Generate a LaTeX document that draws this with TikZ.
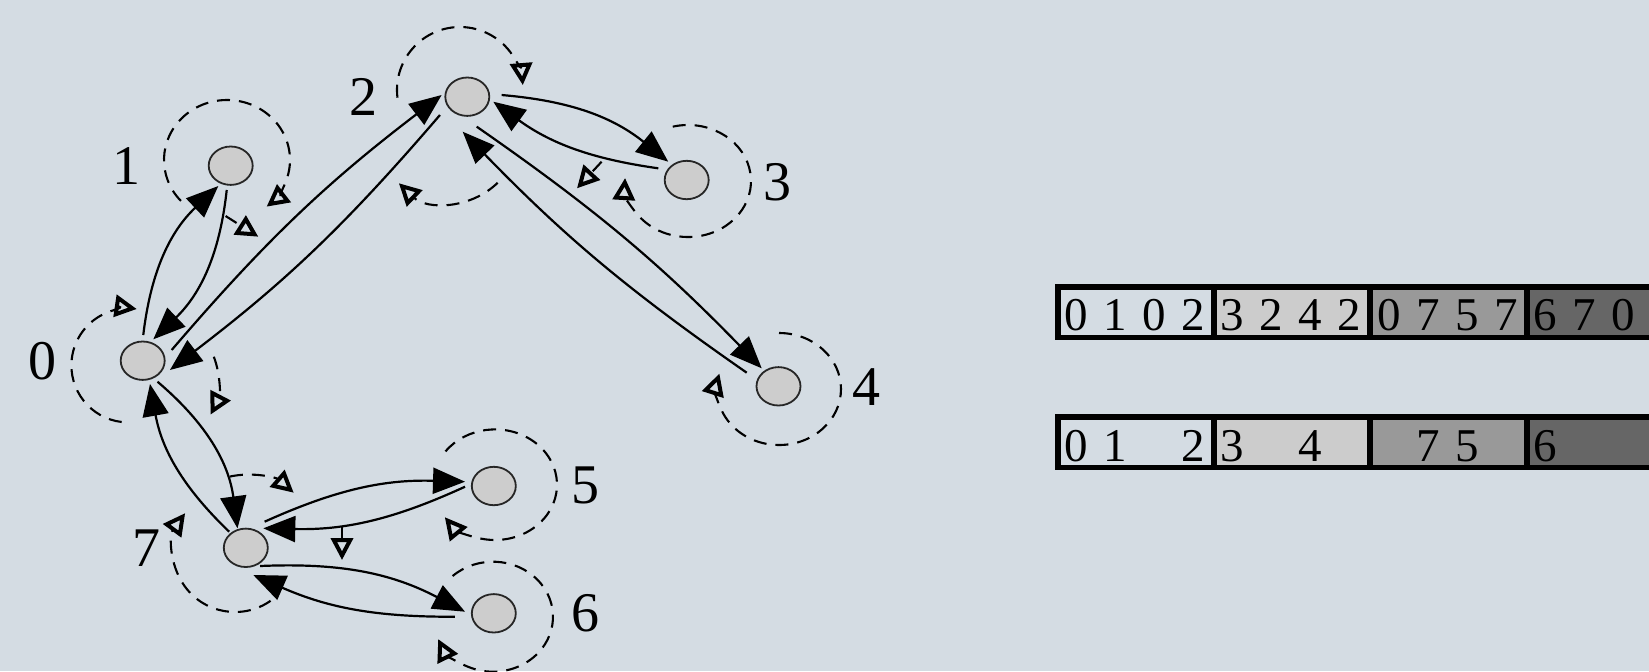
\documentclass[tikz,border=0pt]{standalone}
\usepackage{fontspec}
\setmainfont{Liberation Serif}
\usetikzlibrary{arrows.meta,shapes.geometric,calc}

\definecolor{bg}{RGB}{212,220,227}
\definecolor{vert}{RGB}{205,205,205}
\definecolor{cellA}{RGB}{212,220,227}
\definecolor{cellB}{RGB}{204,204,204}
\definecolor{cellC}{RGB}{153,153,153}
\definecolor{cellD}{RGB}{102,102,102}

\begin{document}
\begin{tikzpicture}[x=0.5pt,y=0.5pt,
  vertex/.style={ellipse, draw=black!85, line width=0.9pt, fill=vert,
    minimum width=22pt, minimum height=19.2pt, inner sep=0pt},
  lbl/.style={font=\fontsize{28}{28}\selectfont, inner sep=0pt},
  conn/.style={line width=1.1pt, -{Triangle[length=16pt,width=13pt]}},
  loopline/.style={line width=1.05pt, dash pattern=on 6.5pt off 4.5pt,
    -{Triangle[open,length=11pt,width=11pt,line width=2pt]}},
  cellnum/.style={font=\fontsize{23.5}{23.5}\selectfont, inner sep=0pt, anchor=base}
]
\fill[bg] (0,0) rectangle (1649,-671);
\useasboundingbox (0,0) rectangle (1649,-671);
\clip (0,0) rectangle (1649,-671);

% vertices
\node[vertex] (n0) at (142.7,-360.7) {};
\node[vertex] (n1) at (230.7,-165.7) {};
\node[vertex] (n2) at (467.3,-96.7) {};
\node[vertex] (n3) at (686.7,-180) {};
\node[vertex] (n4) at (778.5,-386.3) {};
\node[vertex] (n5) at (493.8,-486) {};
\node[vertex] (n6) at (493.8,-613.3) {};
\node[vertex] (n7) at (245.8,-547.8) {};

% vertex labels
\node[lbl] (l0) at (42.7,-360.7) {0};
\node[lbl] (l1) at (126.7,-166) {1};
\node[lbl] (l2) at (363.3,-97.3) {2};
\node[lbl] (l3) at (777.5,-182) {3};
\node[lbl] (l4) at (866.7,-386.7) {4};
\node[lbl] (l5) at (585,-485) {5};
\node[lbl] (l6) at (585,-613.3) {6};
\node[lbl] (l7) at (146.7,-548.3) {7};

% messages along the edges
\draw[conn] ([shift={(88.7:25.7)}]n0.center) to[bend left=20] ([shift={(238.6:23.8)}]n1.center);
\draw[conn] ([shift={(260.7:24.6)}]n1.center) to[bend left=20] ([shift={(63.6:23.9)}]n0.center);
\draw[conn] ([shift={(20.3:30.9)}]n0.center) to[bend left=6] ([shift={(176.2:25.7)}]n2.center);
\draw[conn] ([shift={(213.8:32.9)}]n2.center) to[bend left=6] ([shift={(341.2:28.8)}]n0.center);
\draw[conn] ([shift={(2.8:34.4)}]n2.center) to[bend left=17] ([shift={(135.2:26)}]n3.center);
\draw[conn] ([shift={(157.6:30.7)}]n3.center) to[bend left=14] ([shift={(349.1:26.5)}]n2.center);
\draw[conn] ([shift={(287.4:31.4)}]n2.center) to[bend left=5.5] ([shift={(133:24.6)}]n4.center);
\draw[conn] ([shift={(156.8:34.6)}]n4.center) to[bend left=5.5] ([shift={(262.5:35.3)}]n2.center);
\draw[conn] ([shift={(305.2:25.7)}]n0.center) to[bend left=21] ([shift={(113:21.2)}]n7.center);
\draw[conn] ([shift={(135.9:23.1)}]n7.center) to[bend left=18] ([shift={(287.4:24.4)}]n0.center);
\draw[conn] ([shift={(54.2:32.2)}]n7.center) to[bend left=13] ([shift={(171.5:29.1)}]n5.center);
\draw[conn] ([shift={(181.4:28.8)}]n5.center) to[bend left=13] ([shift={(48.1:26.2)}]n7.center);
\draw[conn] ([shift={(308:23.1)}]n7.center) to[bend left=15] ([shift={(176.8:28.8)}]n6.center);
\draw[conn] ([shift={(185:39)}]n6.center) to[bend left=12] ([shift={(285.4:28.2)}]n7.center);

% local steps drawn as dashed arcs round the vertices
\draw[loopline] ($(n1)+(-3.7,5.7)+(-137:63 and 60)$) arc[start angle=-137, end angle=-411, x radius=63, y radius=60];
\draw[loopline] ($(n2)+(-7.3,6.7)+(-173:63)$) arc[start angle=-173, end angle=-355.5, radius=63];
\draw[loopline] ($(n2)+(-19.3,-35.3)+(-45.6:71)$) arc[start angle=-45.6, end angle=-133.8, radius=71];
\draw[loopline] ($(n0)+(-14.3,-4.7)+(-96.8:57)$) arc[start angle=-96.8, end angle=-278.4, radius=57];
\draw[loopline] ($(n0)+(5.3,-21.3)+(21:70.5)$) arc[start angle=21, end angle=-27.6, radius=70.5];
\draw[loopline] ($(n3)+(1.3,-1)+(-256:63 and 56)$) arc[start angle=-256, end angle=-543, x radius=63, y radius=56];
\draw[loopline] ($(n4)+(0.5,-2.7)+(-270:62 and 56)$) arc[start angle=-270, end angle=-556, x radius=62, y radius=56];
\draw[loopline] ($(n7)+(-257.5:73)$) arc[start angle=-257.5, end angle=-311, radius=73];
\draw[loopline] ($(n7)+(-10.8,-2.2)+(-55:62)$) arc[start angle=-55, end angle=-216.5, radius=62];
\draw[loopline] ($(n5)+(1.2,1.3)+(-217:62 and 55.3)$) arc[start angle=-217, end angle=-504, x radius=62, y radius=55.3];
\draw[loopline] ($(n6)+(-0.8,-3.4)+(-227.7:60 and 55)$) arc[start angle=-227.7, end angle=-516, x radius=60, y radius=55];

% short dashed branches off the edges
\draw[loopline] ($(n1)+(-5.1,-50.3)$) -- ($(n1)+(27.6,-71)$);
\draw[loopline] ($(n3)+(-85.1,18.3)$) -- ($(n3)+(-109.7,-8.3)$);
\draw[loopline] ($(n7)+(96.2,20.8)$) -- ($(n7)+(96.2,-12.2)$);

% the two arrays
\fill[black] (1055,-284) rectangle (1700,-340);
\fill[black] (1055,-414) rectangle (1700,-470);
\foreach \i/\c in {0/cellA,1/cellB,2/cellC,3/cellD} {
  \fill[\c] (1060.5+156.4*\i,-289.5) rectangle ++(150.5,-45);
  \fill[\c] (1060.5+156.4*\i,-419.5) rectangle ++(150.5,-45);
}
\foreach \c/\s/\d in {0/0/0,0/1/1,0/2/0,0/3/2, 1/0/3,1/1/2,1/2/4,1/3/2,
                      2/0/0,2/1/7,2/2/5,2/3/7, 3/0/6,3/1/7,3/2/0}
  \node[cellnum] (top-\c-\s) at (1060.5+156.4*\c+15.5+39*\s,-330.5) {\d};
\foreach \c/\s/\d in {0/0/0,0/1/1,0/3/2, 1/0/3,1/2/4, 2/1/7,2/2/5, 3/0/6}
  \node[cellnum] (bot-\c-\s) at (1060.5+156.4*\c+15.5+39*\s,-461) {\d};
\end{tikzpicture}
\end{document}
